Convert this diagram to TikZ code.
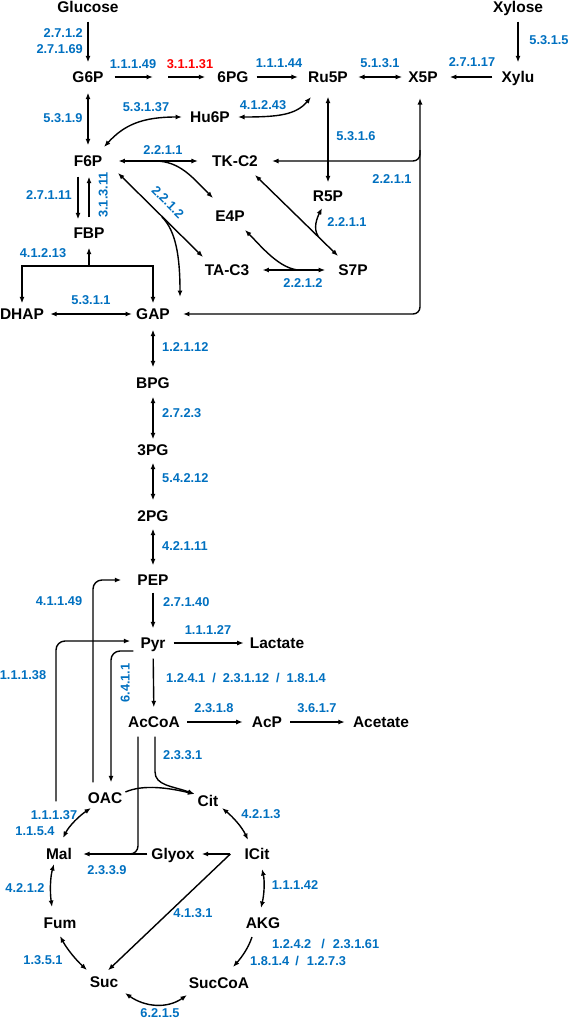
\documentclass[tikz,border=0pt]{standalone}
\usepackage{fontspec}
\setmainfont{Liberation Sans}
\usetikzlibrary{arrows.meta}
\definecolor{ecblue}{HTML}{0070C0}
\definecolor{ecred}{HTML}{FF0000}
\begin{document}
\begin{tikzpicture}[x=1pt,y=-1pt,
  met/.style={font=\fontsize{15.5}{16}\selectfont\bfseries, inner sep=0pt, text height=12pt, text depth=0.9pt},
  ec/.style={font=\fontsize{12.8}{13}\selectfont\bfseries, text=ecblue, inner sep=0pt, text height=10pt, text depth=0.8pt},
  ecr/.style={ec, text=ecred},
  rxn/.style={line width=1.4pt, -{Latex[length=6.5pt,width=5pt]}},
  rev/.style={line width=1.4pt, {Latex[length=6.5pt,width=5pt]}-{Latex[length=6.5pt,width=5pt]}},
  sh/.style 2 args={shorten <=#1, shorten >=#2}]
\useasboundingbox (0,0) rectangle (569,1020);
\node[met] (Glucose) at (88,7) {Glucose};
\node[met] (Xylose) at (518,7) {Xylose};
\node[met] (G6P) at (88,77) {G6P};
\node[met] (PG6) at (233,77) {6PG};
\node[met] (Ru5P) at (328,77) {Ru5P};
\node[met] (X5P) at (423,77) {X5P};
\node[met] (Xylu) at (518,77) {Xylu};
\node[met] (Hu6P) at (210,117) {Hu6P};
\node[met] (F6P) at (88,161) {F6P};
\node[met] (TKC2) at (235,161) {TK-C2};
\node[met] (R5P) at (328,196) {R5P};
\node[met] (E4P) at (230,216) {E4P};
\node[met] (FBP) at (89,233) {FBP};
\node[met] (TAC3) at (227,270) {TA-C3};
\node[met] (S7P) at (353,270) {S7P};
\node[met] (DHAP) at (22,314) {DHAP};
\node[met] (GAP) at (153,314) {GAP};
\node[met] (BPG) at (153,383) {BPG};
\node[met] (PG3) at (153,450) {3PG};
\node[met] (PG2) at (153,516) {2PG};
\node[met] (PEP) at (153,580) {PEP};
\node[met] (Pyr) at (153,643) {Pyr};
\node[met] (Lactate) at (277,643) {Lactate};
\node[met] (AcCoA) at (154,722) {AcCoA};
\node[met] (AcP) at (267,722) {AcP};
\node[met] (Acetate) at (381,722) {Acetate};
\node[met] (OAC) at (105,798) {OAC};
\node[met] (Cit) at (208,801) {Cit};
\node[met] (Mal) at (59,854) {Mal};
\node[met] (Glyox) at (173,854) {Glyox};
\node[met] (ICit) at (257,854) {ICit};
\node[met] (Fum) at (60,923) {Fum};
\node[met] (AKG) at (263,923) {AKG};
\node[met] (Suc) at (104,982) {Suc};
\node[met] (SucCoA) at (219,983) {SucCoA};

\coordinate (G6PL) at (160,77);
\coordinate (tkmid) at (155,161);
\coordinate (tamid) at (162,217);
\coordinate (s7mid) at (318,236);
\coordinate (tsmid) at (300,270);
\coordinate (fbpj) at (89,266);
\coordinate (x5pj) at (420,150);
\coordinate (glxj) at (115,854);

\draw[rxn, sh={8pt}{8pt}] (Glucose) -- (G6P);
\draw[rxn, sh={8pt}{8pt}] (Xylose) -- (Xylu);
\draw[rxn, sh={11pt}{7pt}] (G6P) -- (G6PL);
\draw[rxn, sh={8pt}{12pt}] (G6PL) -- (PG6);
\draw[rxn, sh={8pt}{10pt}] (PG6) -- (Ru5P);
\draw[rev, sh={10pt}{6pt}] (Ru5P) -- (X5P);
\draw[rxn, sh={9pt}{12pt}] (Xylu) -- (X5P);
\draw[rev, sh={9pt}{9pt}] (G6P) -- (F6P);
\draw[rev] ([shift={(16,-14)}]F6P.center) .. controls +(20,-22) and +(-40,0) .. ([shift={(-28,0)}]Hu6P.center);
\draw[rev] ([shift={(28,0)}]Hu6P.center) .. controls +(40,0) and +(-15,18) .. ([shift={(-17,20)}]Ru5P.center);
\draw[rev, sh={13pt}{7pt}] (Ru5P) -- (R5P);
\draw[rev, rounded corners=7pt] ([shift={(-3,21)}]X5P.center) |- ([shift={(14,0)}]TKC2.east);
\draw[rxn, rounded corners=7pt] (x5pj) |- ([shift={(13,0)}]GAP.east);
\draw[rev, sh={16pt}{14pt}] (F6P) -- (TKC2);
\draw[rxn] (tkmid) .. controls +(25,0) and +(-20,-20) .. ([shift={(-17,-18)}]E4P.center);
\draw[rev] ([shift={(30,12)}]F6P.center) -- ([shift={(-24,-13)}]TAC3.center);
\draw[rxn] (tamid) .. controls +(14,14) and +(0,-40) .. ([shift={(27,-17)}]GAP.center);
\draw[rev] ([shift={(20,14)}]TKC2.center) -- ([shift={(-15,-14)}]S7P.center);
\draw[rxn] (s7mid) .. controls +(-5,-8) and +(-5,10) .. ([shift={(-6,12)}]R5P.center);
\draw[rev, sh={13pt}{13pt}] (TAC3) -- (S7P);
\draw[rxn] (tsmid) .. controls +(-20,0) and +(15,15) .. ([shift={(15,14)}]E4P.center);
\draw[rxn] ([shift={(-10,9)}]F6P.south) -- ([shift={(-11,-7)}]FBP.north);
\draw[rxn] ([shift={(0,-9)}]FBP.north) -- ([shift={(1,9)}]F6P.south);
\draw[rxn] (fbpj) -- ([shift={(0,8)}]FBP.south);
\draw[rxn, shorten >=4pt] (fbpj) -| (DHAP);
\draw[rxn, shorten >=4pt] (fbpj) -| (GAP);
\draw[rev, sh={6pt}{4pt}] (DHAP) -- (GAP);

\draw[rev, sh={9pt}{9pt}] (GAP) -- (BPG);
\draw[rev, sh={7pt}{4pt}] (BPG) -- (PG3);
\draw[rev, sh={6pt}{9pt}] (PG3) -- (PG2);
\draw[rev, sh={6pt}{8pt}] (PG2) -- (PEP);
\draw[rxn, sh={6pt}{8pt}] (PEP) -- (Pyr);
\draw[rxn, sh={9pt}{8pt}] (Pyr) -- (AcCoA);
\draw[rxn, sh={8pt}{6pt}] (Pyr) -- (Lactate);
\draw[rxn, sh={7pt}{9pt}] (AcCoA) -- (AcP);
\draw[rxn, sh={8pt}{8pt}] (AcP) -- (Acetate);

\draw[rxn, rounded corners=9pt] ([shift={(-12,-9)}]OAC.north) |- ([shift={(-16,0)}]PEP.west);
\draw[rxn, rounded corners=9pt] ([shift={(-3,-46)}]Mal.north) |- ([shift={(-10,-2)}]Pyr.west);
\draw[rxn, rounded corners=9pt] ([shift={(-7,8)}]Pyr.west) -| ([shift={(6,-9)}]OAC.north);
\draw[rxn] ([shift={(1,8)}]AcCoA.south) -- ([shift={(1,43)}]AcCoA.south) .. controls +(0,14) and +(-22,-8) .. ([shift={(-3,-7)}]Cit.west);
\draw[rxn] ([shift={(3,-6)}]OAC.east) .. controls +(18,-8) and +(-25,-6) .. ([shift={(-3,-7)}]Cit.west);
\draw[line width=1.4pt, rounded corners=8pt] ([shift={(-16,8)}]AcCoA.south) |- (glxj);
\draw[rxn] ([shift={(-4,0)}]Glyox.west) -- ([shift={(11,0)}]Mal.east);
\draw[rxn] ([shift={(-14,0)}]ICit.west) -- ([shift={(7,0)}]Glyox.east);
\draw[rxn] ([shift={(-14,0)}]ICit.west) -- ([shift={(4,-5)}]Suc.north);

\draw[rev] ([shift={(-14,10)}]OAC.center) .. controls +(-12,8) and +(6,-12) .. ([shift={(4,-16)}]Mal.center);
\draw[rev] ([shift={(14,7)}]Cit.center) .. controls +(11,9) and +(-6,-13) .. ([shift={(-9,-14)}]ICit.center);
\draw[rev] ([shift={(-5,10)}]Mal.center) .. controls +(-4,14) and +(-2,-14) .. ([shift={(-8,-16)}]Fum.center);
\draw[rev] ([shift={(5,15)}]ICit.center) .. controls +(3,13) and +(3,-13) .. ([shift={(-2,-15)}]AKG.center);
\draw[rev] ([shift={(0,13)}]Fum.center) .. controls +(7,13) and +(-11,-10) .. ([shift={(-17,-12)}]Suc.center);
\draw[rxn] ([shift={(-11,14)}]AKG.center) .. controls +(-4,12) and +(8,-9) .. ([shift={(14,-16)}]SucCoA.center);
\draw[rev] ([shift={(21,11)}]Suc.center) .. controls +(20,14) and +(-20,14) .. ([shift={(-32,12)}]SucCoA.center);

\node[ec, anchor=east] (ec1) at (83,33) {2.7.1.2};
\node[ec, anchor=east] (ec2) at (83,49) {2.7.1.69};
\node[ec] (ec3) at (133,64) {1.1.1.49};
\node[ecr] (ec4) at (190,64) {3.1.1.31};
\node[ec] (ec5) at (279,63) {1.1.1.44};
\node[ec] (ec6) at (380,63) {5.1.3.1};
\node[ec] (ec7) at (472,62) {2.7.1.17};
\node[ec] (ec8) at (549,40) {5.3.1.5};
\node[ec] (ec9) at (63,118) {5.3.1.9};
\node[ec] (ec10) at (146,107) {5.3.1.37};
\node[ec] (ec11) at (263,105) {4.1.2.43};
\node[ec] (ec12) at (356,136) {5.3.1.6};
\node[ec] (ec13) at (163,150) {2.2.1.1};
\node[ec] (ec14) at (392,179) {2.2.1.1};
\node[ec] (ec15) at (49,195) {2.7.1.11};
\node[ec, rotate=90] (ec16) at (103,195) {3.1.3.11};
\node[ec, rotate=-45] (ec17) at (168,202) {2.2.1.2};
\node[ec] (ec18) at (347,222) {2.2.1.1};
\node[ec] (ec19) at (43,253) {4.1.2.13};
\node[ec] (ec20) at (303,283) {2.2.1.2};
\node[ec] (ec21) at (91,300) {5.3.1.1};
\node[ec, anchor=west] (ec22) at (162,347) {1.2.1.12};
\node[ec, anchor=west] (ec23) at (162,413) {2.7.2.3};
\node[ec, anchor=west] (ec24) at (162,478) {5.4.2.12};
\node[ec, anchor=west] (ec25) at (162,546) {4.2.1.11};
\node[ec, anchor=west] (ec26) at (163,602) {2.7.1.40};
\node[ec] (ec27) at (59,601) {4.1.1.49};
\node[ec] (ec28) at (208,630) {1.1.1.27};
\node[ec] (ec29) at (23,675) {1.1.1.38};
\node[ec, rotate=90] (ec30) at (125,683) {6.4.1.1};
\node[ec, anchor=west] (ec31) at (166,678) {1.2.4.1\hspace{7pt}/\hspace{7pt}2.3.1.12\hspace{7pt}/\hspace{7pt}1.8.1.4};
\node[ec] (ec32) at (214,708) {2.3.1.8};
\node[ec] (ec33) at (317,708) {3.6.1.7};
\node[ec, anchor=west] (ec34) at (163,755) {2.3.3.1};
\node[ec] (ec35) at (54,815) {1.1.1.37};
\node[ec] (ec36) at (35,831) {1.1.5.4};
\node[ec] (ec37) at (261,814) {4.2.1.3};
\node[ec] (ec38) at (107,870) {2.3.3.9};
\node[ec] (ec39) at (25,888) {4.2.1.2};
\node[ec] (ec40) at (295,885) {1.1.1.42};
\node[ec] (ec41) at (193,913) {4.1.3.1};
\node[ec] (ec42) at (43,960) {1.3.5.1};
\node[ec, anchor=west] (ec43) at (272,944) {1.2.4.2\hspace{10pt}/\hspace{8pt}2.3.1.61};
\node[ec, anchor=west] (ec44) at (250,961) {1.8.1.4\hspace{6pt}/\hspace{8pt}1.2.7.3};
\node[ec] (ec45) at (160,1013) {6.2.1.5};
\end{tikzpicture}
\end{document}
